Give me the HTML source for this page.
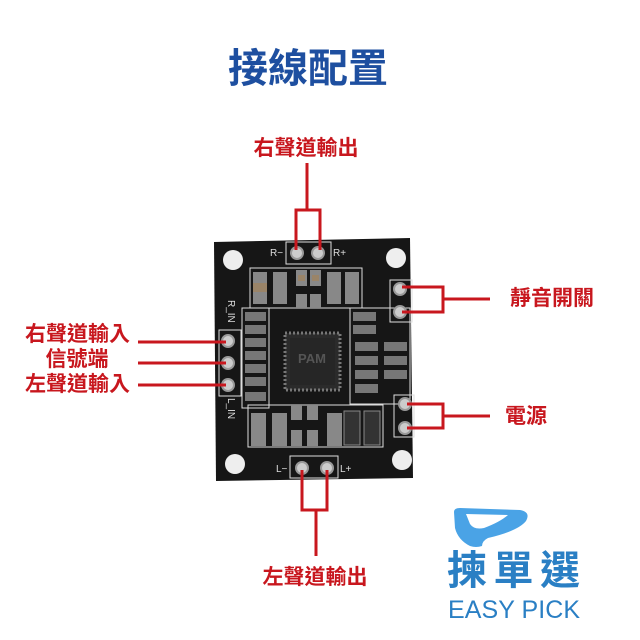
<!DOCTYPE html>
<html><head><meta charset="utf-8"><style>
html,body{margin:0;padding:0;background:#fff;}
svg{display:block}
text{font-family:"Liberation Sans","Noto Sans CJK TC",sans-serif;}
</style></head><body>
<svg width="640" height="640" viewBox="0 0 640 640" xmlns="http://www.w3.org/2000/svg">
<rect width="640" height="640" fill="#fff"/>
<text x="308" y="82" text-anchor="middle" font-size="40" font-weight="bold" fill="#1e4fa0" style="font-family:'Noto Sans CJK TC',sans-serif">接線配置</text>

<!-- board -->
<path d="M214 242 L410 238 L413 478 L216 481 Z" fill="#161616"/>
<g fill="#eee">
<circle cx="233" cy="260" r="10"/><circle cx="396" cy="258" r="10"/>
<circle cx="235" cy="464" r="10"/><circle cx="402" cy="460" r="10"/>
</g>
<g fill="none" stroke="#ddd" stroke-width="1">
<rect x="286" y="242" width="45" height="22"/>
<rect x="219" y="330" width="22" height="66"/>
<rect x="390" y="280" width="22" height="42"/>
<rect x="394" y="395" width="20" height="42"/>
<rect x="290" y="456" width="48" height="22"/>
<rect x="250" y="268" width="112" height="40"/>
<rect x="242" y="308" width="27" height="100"/>
<rect x="350" y="308" width="60" height="96"/>
<rect x="248" y="405" width="135" height="42"/>
</g>
<g fill="#888">
<rect x="253" y="272" width="14" height="32"/><rect x="273" y="272" width="14" height="32"/>
<rect x="327" y="272" width="14" height="32"/><rect x="345" y="272" width="14" height="32"/>
<rect x="296" y="270" width="11" height="16"/><rect x="310" y="270" width="11" height="16"/>
<rect x="296" y="294" width="11" height="14"/><rect x="310" y="294" width="11" height="14"/>
</g>
<g fill="#9a8468">
<rect x="253" y="283" width="14" height="9"/><rect x="298" y="275" width="7" height="6"/><rect x="312" y="275" width="7" height="6"/>
</g>
<g fill="#777">
<rect x="245" y="312" width="21" height="9"/><rect x="245" y="325" width="21" height="9"/>
<rect x="245" y="338" width="21" height="9"/><rect x="245" y="351" width="21" height="9"/>
<rect x="245" y="364" width="21" height="9"/><rect x="245" y="377" width="21" height="9"/>
<rect x="245" y="392" width="21" height="9"/>
<rect x="353" y="312" width="23" height="9"/><rect x="353" y="325" width="23" height="9"/>
<rect x="355" y="342" width="23" height="9"/><rect x="355" y="356" width="23" height="9"/>
<rect x="355" y="370" width="23" height="9"/><rect x="355" y="384" width="23" height="9"/>
<rect x="384" y="342" width="23" height="9"/><rect x="384" y="356" width="23" height="9"/>
<rect x="384" y="370" width="23" height="9"/>
</g>
<rect x="285" y="333" width="55" height="57" fill="#2b2b2b" stroke="#777" stroke-dasharray="2 2" stroke-width="3"/>
<rect x="290" y="338" width="45" height="47" fill="#262626"/>
<text x="312" y="363" text-anchor="middle" font-size="13" font-weight="bold" fill="#555">PAM</text>
<g fill="#888">
<rect x="251" y="413" width="15" height="33"/><rect x="272" y="413" width="15" height="33"/>
<rect x="327" y="413" width="15" height="33"/>
<rect x="291" y="405" width="11" height="15"/><rect x="307" y="405" width="11" height="15"/>
<rect x="291" y="430" width="11" height="16"/><rect x="307" y="430" width="11" height="16"/>
</g>
<rect x="344" y="411" width="16" height="34" fill="#333" stroke="#888"/>
<rect x="364" y="411" width="16" height="34" fill="#333" stroke="#888"/>
<g fill="#ccc" stroke="#999" stroke-width="2">
<circle cx="297" cy="253" r="6"/><circle cx="318" cy="253" r="6"/>
<circle cx="228" cy="341" r="6"/><circle cx="228" cy="363" r="6"/><circle cx="228" cy="385" r="6"/>
<circle cx="400" cy="289" r="6"/><circle cx="400" cy="312" r="6"/>
<circle cx="405" cy="404" r="6"/><circle cx="405" cy="428" r="6"/>
<circle cx="302" cy="468" r="6"/><circle cx="327" cy="468" r="6"/>
</g>
<g font-size="10" fill="#ddd">
<text x="270" y="256">R−</text><text x="333" y="256">R+</text>
<text x="276" y="472">L−</text><text x="340" y="472">L+</text>
<text transform="translate(228,300) rotate(90)">R_IN</text>
<text transform="translate(228,398) rotate(90)">L_IN</text>
</g>
<g stroke="#c8171e" stroke-width="3" fill="none">
<path d="M307 163 V210 M296 250 V210 H320 V250"/>
<path d="M302 470 V510 H327 V470 M316 510 V556"/>
<path d="M138 342 H226 M138 363 H226 M138 385 H226"/>
<path d="M402 287 H443 V312 H402 M443 299 H490"/>
<path d="M407 404 H443 V428 H407 M443 416 H490"/>
</g>
<g fill="#c8171e" font-size="21" font-weight="bold" style="font-family:'Noto Sans CJK TC',sans-serif">
<text x="306" y="155" text-anchor="middle">右聲道輸出</text>
<text x="315" y="584" text-anchor="middle">左聲道輸出</text>
<text x="130" y="341" text-anchor="end">右聲道輸入</text>
<text x="77" y="366" text-anchor="middle">信號端</text>
<text x="130" y="391" text-anchor="end">左聲道輸入</text>
<text x="510" y="305">靜音開關</text>
<text x="505" y="423">電源</text>
</g>
<!-- logo -->
<path d="M454 512 Q454 508 460 508 L520 510 Q531 512 526 521 Q518 531 488 538 Q482 541 482 546 Q476 548 470 546 Q458 540 455 528 Z" fill="#4aa3e6"/>
<path d="M466 514 L508 515 Q500 522 484 528 Q474 530 470 524 Z" fill="#fff"/>
<text x="447" y="584" font-size="40" font-weight="bold" fill="#2a7fc4" style="font-family:'Noto Sans CJK TC',sans-serif" textLength="133">揀單選</text>
<text x="448" y="618" font-size="25" fill="#2a7fc4" textLength="132">EASY PICK</text>
</svg>
</body></html>
